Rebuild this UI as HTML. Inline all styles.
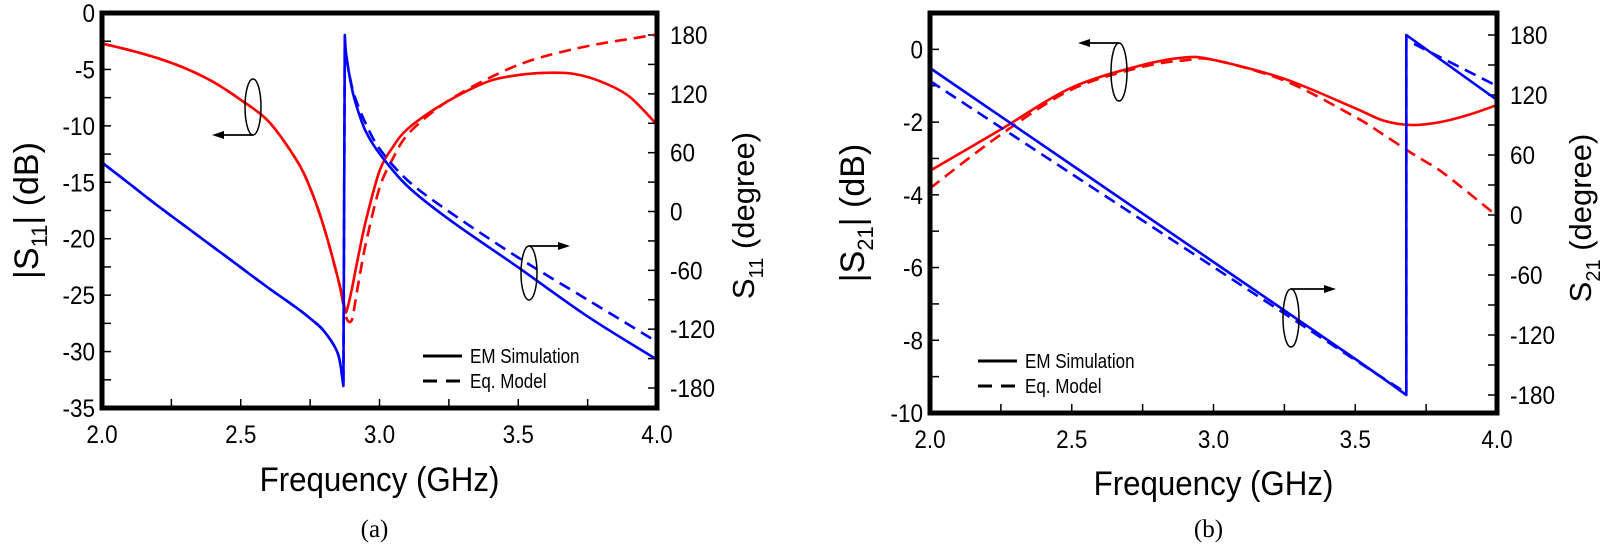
<!DOCTYPE html>
<html><head><meta charset="utf-8"><style>
html,body{margin:0;padding:0;background:#fff;}
svg{display:block;}
text{font-family:"Liberation Sans",Arial,sans-serif;fill:#000;}
</style></head><body>
<svg id="fig" width="1605" height="548" viewBox="0 0 1605 548" xmlns="http://www.w3.org/2000/svg">
<g id="pa"></g>
<g id="pb"></g>
</svg>
<script>
// ---------- Panel (a) data ----------
const aFreq = [2.0,2.1,2.2,2.3,2.4,2.5,2.6,2.7,2.75,2.8,2.85,2.87,2.88,2.9,2.92,2.95,3.0,3.05,3.1,3.2,3.3,3.4,3.5,3.6,3.7,3.8,3.9,4.0];
const aMagEM = [-2.7,-3.3,-4.0,-4.9,-6.1,-7.7,-9.6,-13.0,-15.5,-19.0,-23.5,-25.8,-26.5,-24.5,-22,-18.5,-14,-11.8,-10.3,-8.5,-7.1,-6.0,-5.5,-5.3,-5.4,-6.1,-7.4,-9.9];
const aMagEq = [-2.7,-3.3,-4.0,-4.9,-6.1,-7.7,-9.6,-13.0,-15.5,-19.0,-23.5,-25.5,-27.0,-27.2,-24.5,-20.5,-15.5,-12.8,-10.8,-8.6,-7.0,-5.7,-4.6,-3.8,-3.2,-2.7,-2.3,-1.9];
const aPhFreq = [2.0,2.1,2.2,2.3,2.4,2.5,2.6,2.7,2.75,2.8,2.85,2.87,2.875,2.88,2.9,2.92,2.95,3.0,3.1,3.25,3.5,3.75,4.0];
const aPhEM = [50,28,6,-15,-36,-57,-78,-98,-109,-122,-145,-178,180,160,126,105,82,59,26,-8,-57,-107,-151];
const aPhEq = [50,28,6,-15,-36,-57,-78,-98,-109,-122,-145,-178,175,158,128,110,90,64,32,0,-47,-90,-133];
// ---------- Panel (b) data ----------
const bFreq = [2.0,2.25,2.5,2.75,2.9,3.0,3.25,3.5,3.6,3.7,3.8,3.9,4.0];
const bMagEM = [-3.34,-2.2,-1.05,-0.43,-0.22,-0.29,-0.81,-1.62,-1.96,-2.08,-2.0,-1.8,-1.53];
const bMagEq = [-3.82,-2.34,-1.1,-0.48,-0.3,-0.29,-0.86,-1.86,-2.35,-2.86,-3.34,-3.95,-4.58];
const bPhFreq = [2.0,2.5,3.0,3.5,3.68,3.6801,4.0];
const bPhEM = [147,50,-47,-144,-180,180,115];
const bPhEq = [134,41,-52,-145,-178,175,129];
const xTicks = ["2.0","2.5","3.0","3.5","4.0"];
const aYTicks = ["0","-5","-10","-15","-20","-25","-30","-35"];
const bYTicks = ["0","-2","-4","-6","-8","-10"];
const phTicks = ["180","120","60","0","-60","-120","-180"];

const NS="http://www.w3.org/2000/svg";
function mk(parent,tag,attrs,txt){const e=document.createElementNS(NS,tag);for(const k in attrs)e.setAttribute(k,attrs[k]);if(txt!==undefined)e.textContent=txt;parent.appendChild(e);return e;}

function smoothPath(pts){
  const segs=[[pts[0]]];
  for(let i=1;i<pts.length;i++){
    const a=pts[i-1],b=pts[i];
    if(Math.abs(b[0]-a[0])<2 && Math.abs(b[1]-a[1])>150) segs.push([b]);
    else segs[segs.length-1].push(b);
  }
  let d='';
  segs.forEach((s,si)=>{
    d+=(si===0?'M':' L')+s[0][0].toFixed(1)+','+s[0][1].toFixed(1);
    for(let i=0;i<s.length-1;i++){
      const p0=s[i-1]||s[i],p1=s[i],p2=s[i+1],p3=s[i+2]||s[i+1];
      const t=0.16;
      const c1=[p1[0]+(p2[0]-p0[0])*t,p1[1]+(p2[1]-p0[1])*t];
      const c2=[p2[0]-(p3[0]-p1[0])*t,p2[1]-(p3[1]-p1[1])*t];
      d+=` C${c1[0].toFixed(1)},${c1[1].toFixed(1)} ${c2[0].toFixed(1)},${c2[1].toFixed(1)} ${p2[0].toFixed(1)},${p2[1].toFixed(1)}`;
    }
  });
  return d;
}

function panel(g,cfg){
  const {L,R,T,B,yMin,yMax,ph0,ph180,yTicks,yStep}=cfg;
  const sx=f=>L+(f-2)/2*(R-L);
  const sy=v=>T+(yMax-v)/(yMax-yMin)*(B-T);
  const sp=d=>ph0-(d)*(ph0-ph180)/180;
  for(let f=2;f<=4.001;f+=0.25){const t=mk(g,'line',{x1:sx(f),x2:sx(f),y1:B,y2:B-9,stroke:'#000','stroke-width':1.5});
    }
  for(let v=yMax;v>=yMin-0.001;v-=yStep/2){const t=mk(g,'line',{x1:L,x2:L+9,y1:sy(v),y2:sy(v),stroke:'#000','stroke-width':1.5});
    }
  for(let d=180;d>=-180;d-=30){const t=mk(g,'line',{x1:R,x2:R-9,y1:sp(d),y2:sp(d),stroke:'#000','stroke-width':1.5});
    }
  xTicks.forEach(s=>{const f=parseFloat(s);const t=mk(g,'text',{x:sx(f),y:B+35,'text-anchor':'middle','font-size':25,transform:`translate(${sx(f)} 0) scale(0.9 1) translate(${-sx(f)} 0)`},s);
    });
  yTicks.forEach(s=>{const v=parseFloat(s);const t=mk(g,'text',{x:L-7,y:sy(v)+9,'text-anchor':'end','font-size':25,transform:`translate(${L-7} 0) scale(0.9 1) translate(${-(L-7)} 0)`},s);
    });
  phTicks.forEach(s=>{const d=parseFloat(s);const t=mk(g,'text',{x:R+13,y:sp(d)+9,'text-anchor':'start','font-size':25,transform:`translate(${R+13} 0) scale(0.9 1) translate(${-(R+13)} 0)`},s);
    });
  const clip='clip'+cfg.id;
  const cp=mk(g,'clipPath',{id:clip});mk(cp,'rect',{x:L,y:T,width:R-L,height:B-T});
  const line=(fx,vals,fy,color,dash,name)=>{
    const pts=fx.map((f,i)=>[sx(f),fy(vals[i])]);
    const p=mk(g,'path',{d:smoothPath(pts),fill:'none',stroke:color,'stroke-width':2.6,'stroke-dasharray':dash?'12 7':'none','stroke-linejoin':'round','clip-path':`url(#${clip})`});
    };
  line(cfg.mF,cfg.mEM,sy,'#f00',false,'magnitude-em-line');
  line(cfg.mF,cfg.mEq,sy,'#f00',true,'magnitude-model-line');
  line(cfg.pF,cfg.pEM,sp,'#00f',false,'phase-em-line');
  line(cfg.pF,cfg.pEq,sp,'#00f',true,'phase-model-line');
  const fr=mk(g,'rect',{x:L,y:T,width:R-L,height:B-T,fill:'none',stroke:'#000','stroke-width':5});
  
  cfg.ann.forEach(a=>{
    const e=mk(g,'ellipse',{cx:a.cx,cy:a.cy,rx:8,ry:a.ry,fill:'none',stroke:'#000','stroke-width':1.5});
    
    const y=a.top?a.cy-a.ry:a.cy+a.ry;
    const l=mk(g,'line',{x1:a.cx,x2:a.tx+(a.tx<a.cx?8:-8),y1:y,y2:y,stroke:'#000','stroke-width':1.8});
    
    const d=a.tx<a.cx?1:-1;
    const h=mk(g,'polygon',{points:`${a.tx},${y} ${a.tx+12*d},${y-4} ${a.tx+12*d},${y+4}`,fill:'#000'});
    
  });
  const lg=mk(g,'g',{});
  const [lx,ly]=cfg.leg;
  mk(lg,'line',{x1:lx,x2:lx+39,y1:ly,y2:ly,stroke:'#000','stroke-width':3});
  mk(lg,'line',{x1:lx,x2:lx+39,y1:ly+25,y2:ly+25,stroke:'#000','stroke-width':3,'stroke-dasharray':'14 9'});
  const t1=mk(lg,'text',{x:lx+47,y:ly+7,'font-size':20,transform:`translate(${lx+47} 0) scale(0.85 1) translate(${-(lx+47)} 0)`},'EM Simulation');
  
  const t2=mk(lg,'text',{x:lx+47,y:ly+32,'font-size':20,transform:`translate(${lx+47} 0) scale(0.85 1) translate(${-(lx+47)} 0)`},'Eq. Model');
  
  const xt=mk(g,'text',{x:(L+R)/2,y:cfg.xtY,'text-anchor':'middle','font-size':34,transform:`translate(${(L+R)/2} 0) scale(0.92 1) translate(${-(L+R)/2} 0)`},'Frequency (GHz)');
  
  const yt=mk(g,'text',{x:0,y:0,'text-anchor':'middle','font-size':34,transform:`translate(${cfg.ytX} ${(T+B)/2}) rotate(-90)`});
  
  yt.innerHTML=`|S<tspan font-size="22" dy="9">${cfg.sub}</tspan><tspan dy="-9">| (dB)</tspan>`;
  const y2=mk(g,'text',{x:0,y:0,'text-anchor':'middle','font-size':31,transform:`translate(${cfg.y2X} ${(T+B)/2+5}) rotate(-90)`});
  
  y2.innerHTML=`S<tspan font-size="20" dy="9">${cfg.sub}</tspan><tspan dy="-9"> (degree)</tspan>`;
  const cap=mk(g,'text',{x:(L+R)/2-5,y:537,'text-anchor':'middle','font-size':25,style:'font-family:"Liberation Serif",serif'},cfg.cap);
  
}

panel(document.getElementById('pa'),{id:'a',L:102,R:657,T:13,B:408,yMin:-35,yMax:0,yStep:5,ph0:211.5,ph180:35,yTicks:aYTicks,
  mF:aFreq,mEM:aMagEM,mEq:aMagEq,pF:aPhFreq,pEM:aPhEM,pEq:aPhEq,
  ann:[{cx:253,cy:107,ry:28,top:false,tx:212},{cx:529,cy:273,ry:27,top:true,tx:570}],
  leg:[423,356],xtY:491,ytX:38,y2X:754,sub:'11',cap:'(a)'});
panel(document.getElementById('pb'),{id:'b',L:930,R:1497,T:13,B:413,yMin:-10,yMax:1,yStep:2,ph0:215,ph180:35,yTicks:bYTicks,
  mF:bFreq,mEM:bMagEM,mEq:bMagEq,pF:bPhFreq,pEM:bPhEM,pEq:bPhEq,
  ann:[{cx:1119,cy:72,ry:29,top:true,tx:1078},{cx:1291,cy:318,ry:29,top:true,tx:1336}],
  leg:[978,361],xtY:495,ytX:864,y2X:1591,sub:'21',cap:'(b)'});
</script>
</body></html>
